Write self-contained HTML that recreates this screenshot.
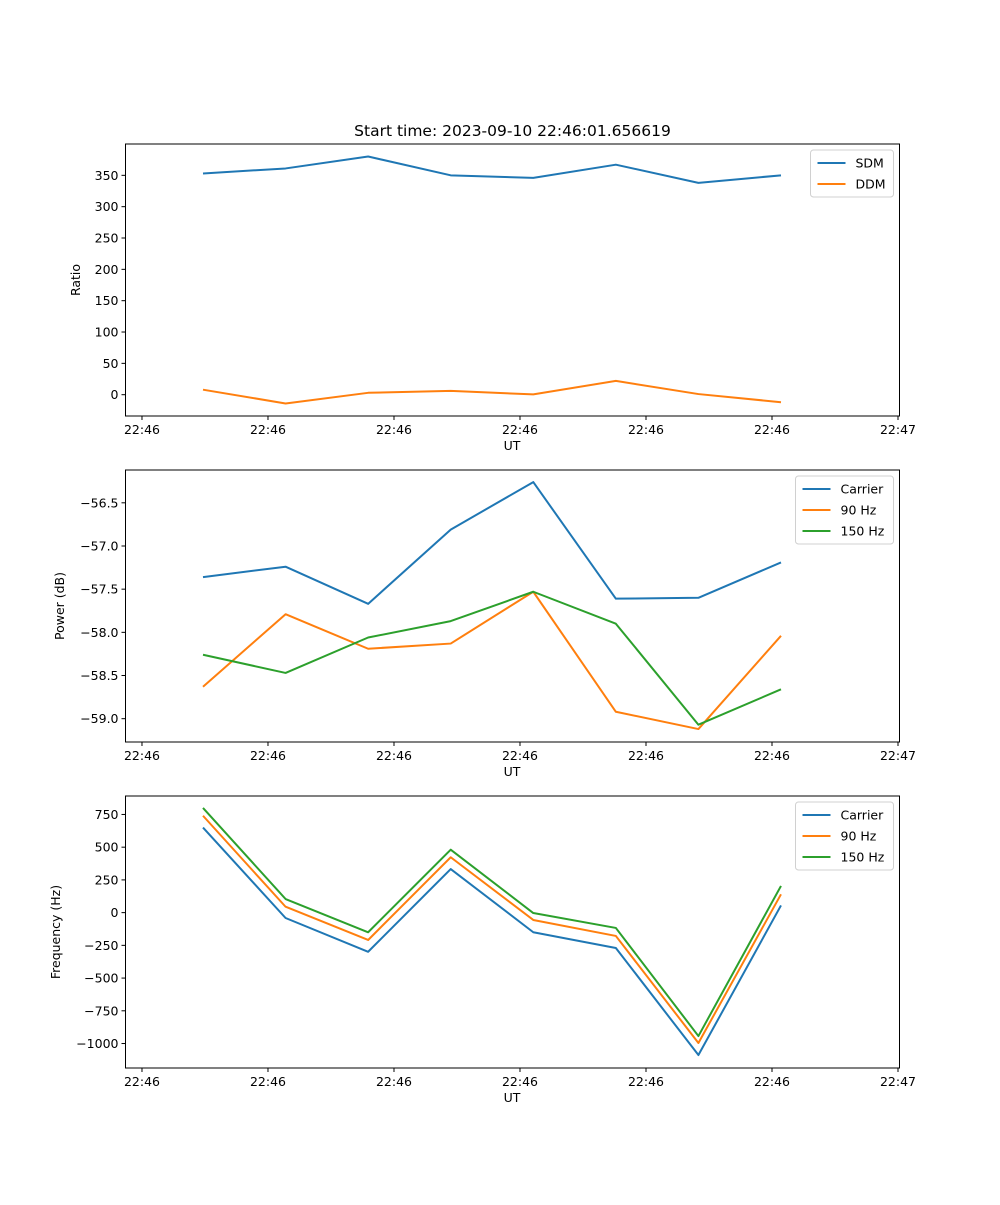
<!DOCTYPE html>
<html><head><meta charset="utf-8"><style>
body{margin:0;background:#fff}
svg text{font-family:"DejaVu Sans","Liberation Sans",sans-serif;fill:#000}
</style></head><body>
<svg id="fig" width="1000" height="1200" xmlns="http://www.w3.org/2000/svg">
<text x="512.5" y="136" font-size="15.5" text-anchor="middle">Start time: 2023-09-10 22:46:01.656619</text>
</svg>
<script>
const xIdx = [0,1,2,3,4,5,6,7];
const xTicks = [-0.739,0.787,2.313,3.839,5.365,6.891,8.417];
const xTickLabels = ["22:46","22:46","22:46","22:46","22:46","22:46","22:47"];
const ratioSDM = [353,361,380,350,346,367,338,350];
const ratioDDM = [8,-14,3,6,0.5,22,1,-12];
const ratioTicks = [0,50,100,150,200,250,300,350];
const powCarrier = [-57.36,-57.24,-57.67,-56.81,-56.26,-57.61,-57.60,-57.19];
const pow90 = [-58.63,-57.79,-58.19,-58.13,-57.53,-58.92,-59.12,-58.04];
const pow150 = [-58.26,-58.47,-58.06,-57.87,-57.53,-57.90,-59.07,-58.66];
const powTicks = [-59.0,-58.5,-58.0,-57.5,-57.0,-56.5];
const freqCarrier = [650,-41,-299,333,-150,-270,-1088,55];
const freq90 = [740,45,-209,423,-56,-178,-996,140];
const freq150 = [800,104,-150,481,-3,-117,-943,204];
const freqTicks = [-1000,-750,-500,-250,0,250,500,750];

const NS="http://www.w3.org/2000/svg";
const svg=document.getElementById('fig');
function mk(tag,attrs,parent){const e=document.createElementNS(NS,tag);for(const k in attrs)e.setAttribute(k,attrs[k]);(parent||svg).appendChild(e);return e;}
const L=125.5,R=899.5;
const xs=i=>203+82.57*i;
function fmt(v,dec){return (v<0?'\u2212':'')+Math.abs(v).toFixed(dec);}
function panel(name,top,bot,ymin,ymax,ticks,dec,ylabel,series,legend){
  const g=mk('g',{});
  
  
  const ys=v=>bot-(v-ymin)/(ymax-ymin)*(bot-top);
  series.forEach(s=>{
    const p=mk('polyline',{points:s.data.map((v,i)=>xs(xIdx[i])+','+ys(v)).join(' '),fill:'none',stroke:s.color,'stroke-width':2,'stroke-linejoin':'round'},g);
    
    
  });
  const fr=mk('rect',{x:L,y:top,width:R-L,height:bot-top,fill:'none',stroke:'#000','stroke-width':1},g);
  
  
  xTicks.forEach((t,i)=>{const x=xs(t);
    mk('line',{x1:x,y1:bot,x2:x,y2:bot+4,stroke:'#000'},g);
    const tx=mk('text',{x:x,y:bot+18,'font-size':12.5,'text-anchor':'middle'},g);tx.textContent=xTickLabels[i];
    
    });
  ticks.forEach(t=>{const y=ys(t);
    mk('line',{x1:L-4,y1:y,x2:L,y2:y,stroke:'#000'},g);
    const tx=mk('text',{x:L-7,y:y+4.5,'font-size':12.5,'text-anchor':'end'},g);tx.textContent=fmt(t,dec);
    
    });
  const xl=mk('text',{x:512,y:bot+34,'font-size':12.5,'text-anchor':'middle'},g);xl.textContent='UT';
  
  
  const lx=ylabel.x, ly=(top+bot)/2;
  const yl=mk('text',{x:lx,y:ly,'font-size':12.5,'text-anchor':'middle',transform:`rotate(-90 ${lx} ${ly})`},g);yl.textContent=ylabel.t;
  
  
  const lw=legend.w,lh=series.length*21+5,lxp=R-6-lw,lyp=top+6;
  const lg=mk('g',{},g);
  
  
  mk('rect',{x:lxp,y:lyp,width:lw,height:lh,rx:3,fill:'#fff',stroke:'#d0d0d0'},lg);
  series.forEach((s,i)=>{const y=lyp+13+i*21;
    mk('line',{x1:lxp+7,y1:y,x2:lxp+35,y2:y,stroke:s.color,'stroke-width':2},lg);
    const t=mk('text',{x:lxp+45,y:y+4.5,'font-size':12.5},lg);t.textContent=s.label;
    
    });
}
const C1='#1f77b4',C2='#ff7f0e',C3='#2ca02c';
panel('ratio-panel',144,416,-34,400,ratioTicks,0,{x:80,t:'Ratio'},
  [{name:'sdm-line',label:'SDM',color:C1,data:ratioSDM},{name:'ddm-line',label:'DDM',color:C2,data:ratioDDM}],{w:83});
panel('power-panel',470,742,-59.27,-56.12,powTicks,1,{x:64,t:'Power (dB)'},
  [{name:'power-carrier-line',label:'Carrier',color:C1,data:powCarrier},{name:'power-90hz-line',label:'90 Hz',color:C2,data:pow90},{name:'power-150hz-line',label:'150 Hz',color:C3,data:pow150}],{w:98});
panel('frequency-panel',796,1068,-1187,891,freqTicks,0,{x:60,t:'Frequency (Hz)'},
  [{name:'freq-carrier-line',label:'Carrier',color:C1,data:freqCarrier},{name:'freq-90hz-line',label:'90 Hz',color:C2,data:freq90},{name:'freq-150hz-line',label:'150 Hz',color:C3,data:freq150}],{w:98});
</script>
</body></html>
